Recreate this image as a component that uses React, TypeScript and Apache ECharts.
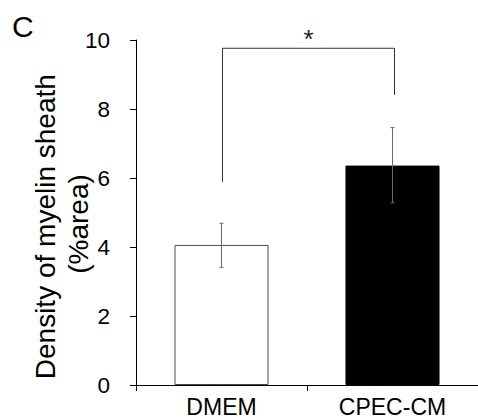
import React, { useEffect, useRef } from "react";
import * as echarts from "echarts";

const categories = ["DMEM", "CPEC-CM"];
const means = [4.06, 6.36];
const errLow = [3.41, 5.28];
const errHigh = [4.69, 7.46];
const yTicks = { min: 0, max: 10, interval: 2 };
// significance bracket: [left leg bottom, bar height, right leg bottom]
const bracket = [5.89, 9.76, 8.41];
const sigLabel = "*";
const yTitle = ["Density of myelin sheath", "(%area)"];
const panelLabel = "C";

const FONT = "'Liberation Sans', Arial, Helvetica, sans-serif";

export default function App() {
  const ref = useRef<HTMLDivElement>(null);
  useEffect(() => {
    if (!ref.current) return;
    const chart = echarts.init(ref.current, undefined, { renderer: "svg" });
    const option: any = {
      animation: false,
      backgroundColor: "#ffffff",
      textStyle: { fontFamily: FONT },
      grid: { left: 136, top: 40, bottom: 34, right: -7, containLabel: false },
      xAxis: {
        type: "category",
        data: categories,
        axisLine: { show: true, lineStyle: { color: "#000", width: 1 } },
        axisTick: { show: true, length: 6, inside: false, alignWithLabel: false, lineStyle: { color: "#000" } },
        axisLabel: { color: "#000", fontSize: 23, margin: 10, fontFamily: FONT },
        splitLine: { show: false },
      },
      yAxis: {
        type: "value",
        min: yTicks.min,
        max: yTicks.max,
        interval: yTicks.interval,
        axisLine: { show: true, lineStyle: { color: "#000", width: 1 } },
        axisTick: { show: true, length: 6, inside: false, lineStyle: { color: "#000" } },
        axisLabel: { color: "#000", fontSize: 22.5, margin: 26, fontFamily: FONT },
        splitLine: { show: false },
      },
      graphic: [
        {
          type: "text",
          x: 12,
          y: 26.3,
          style: { text: panelLabel, fontSize: 30, fontFamily: FONT, fill: "#000", align: "left", verticalAlign: "middle" },
        },
        {
          type: "text",
          x: 45.7,
          y: 226.7,
          rotation: Math.PI / 2,
          style: { text: yTitle[0], fontSize: 28, fontFamily: FONT, fill: "#000", align: "center", verticalAlign: "middle" },
        },
        {
          type: "text",
          x: 78.7,
          y: 224,
          rotation: Math.PI / 2,
          style: { text: yTitle[1], fontSize: 28, fontFamily: FONT, fill: "#000", align: "center", verticalAlign: "middle" },
        },
      ],
      series: [
        {
          type: "bar",
          barWidth: "55%",
          data: means.map((v, i) => ({
            value: v,
            itemStyle:
              i === 0
                ? { color: "#ffffff", borderColor: "#4a4a4a", borderWidth: 1 }
                : { color: "#000000", borderColor: "#000000", borderWidth: 1 },
          })),
          z: 2,
        },
        {
          type: "custom",
          z: 3,
          encode: { x: 0, y: [1, 2] },
          data: categories.map((_, i) => [i, errLow[i], errHigh[i]]),
          renderItem: (params: any, api: any) => {
            const xi = api.value(0);
            const lo = api.coord([xi, api.value(1)]);
            const hi = api.coord([xi, api.value(2)]);
            const x = lo[0];
            const cap = 2;
            const style = { stroke: "#6b6b6b", lineWidth: 1 };
            return {
              type: "group",
              children: [
                { type: "line", shape: { x1: x, y1: lo[1], x2: x, y2: hi[1] }, style },
                { type: "line", shape: { x1: x - cap, y1: lo[1], x2: x + cap, y2: lo[1] }, style },
                { type: "line", shape: { x1: x - cap, y1: hi[1], x2: x + cap, y2: hi[1] }, style },
              ],
            };
          },
        },
        {
          type: "custom",
          z: 3,
          encode: { x: [0, 1], y: [2, 3, 4] },
          data: [[0, 1, bracket[0], bracket[1], bracket[2]]],
          renderItem: (params: any, api: any) => {
            const a = api.coord([api.value(0), api.value(2)]);
            const b = api.coord([api.value(0), api.value(3)]);
            const c = api.coord([api.value(1), api.value(3)]);
            const d = api.coord([api.value(1), api.value(4)]);
            const lx = a[0] + 1;
            const rx = c[0] + 2;
            return {
              type: "group",
              children: [
                {
                  type: "polyline",
                  shape: { points: [[lx, a[1]], [lx, b[1]], [rx, c[1]], [rx, d[1]]] },
                  style: { stroke: "#333333", lineWidth: 1, fill: null },
                },
                {
                  type: "text",
                  x: (lx + rx) / 2,
                  y: b[1] - 9,
                  style: { text: sigLabel, fontSize: 26, fontFamily: FONT, fill: "#222", align: "center", verticalAlign: "middle" },
                },
              ],
            };
          },
        },
      ],
    };
    chart.setOption(option);
    return () => chart.dispose();
  }, []);
  return (
    <div
      ref={ref}
      style={{ position: "fixed", left: 0, top: 0, width: 478, height: 419, background: "#fff" }}
    />
  );
}
